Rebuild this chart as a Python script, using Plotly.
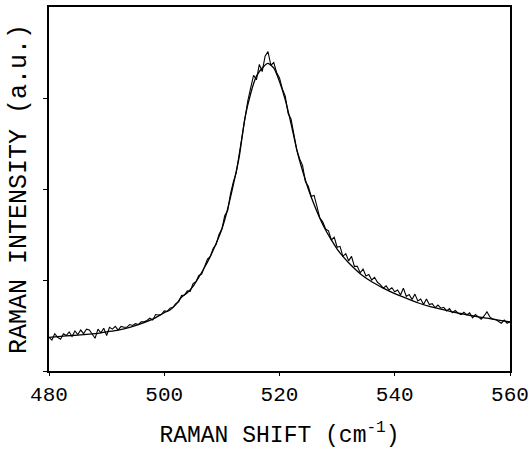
import plotly.graph_objects as go

# Smooth fit curve
fit_x = [480, 482, 484, 486, 488, 490, 492, 494, 496, 498, 500, 501, 502, 503, 504, 505,
         506, 507, 508, 509, 510, 511, 512, 513, 514, 515, 516, 517, 518, 519, 520, 521,
         522, 523, 524, 525, 526, 527, 528, 529, 530, 531, 532, 534, 536, 538, 540, 542,
         544, 546, 548, 550, 552, 554, 556, 558, 560]
fit_y = [0.37, 0.38, 0.39, 0.40, 0.41, 0.43, 0.45, 0.48, 0.52, 0.57, 0.64, 0.67, 0.73, 0.81,
         0.86, 0.93, 1.03, 1.14, 1.26, 1.40, 1.56, 1.78, 2.05, 2.35, 2.78, 3.05, 3.24, 3.33,
         3.38, 3.33, 3.18, 2.98, 2.72, 2.43, 2.20, 2.00, 1.83, 1.68, 1.55, 1.44, 1.34, 1.26,
         1.19, 1.07, 0.98, 0.91, 0.85, 0.80, 0.75, 0.71, 0.68, 0.65, 0.625, 0.60, 0.58, 0.56,
         0.54]

# Measured (noisy) spectrum, 0.5 cm-1 steps from 480 to 560
data_x = [480 + 0.5 * i for i in range(161)]
data_y = [0.37, 0.34, 0.41, 0.37, 0.35, 0.41, 0.39, 0.43, 0.38, 0.44,
          0.40, 0.45, 0.41, 0.46, 0.45, 0.40, 0.36, 0.46, 0.42, 0.47,
          0.39, 0.48, 0.46, 0.49, 0.45, 0.49, 0.48, 0.48, 0.51, 0.50,
          0.52, 0.51, 0.54, 0.54, 0.555, 0.58, 0.56, 0.62, 0.615, 0.62,
          0.66, 0.655, 0.69, 0.70, 0.74, 0.76, 0.83, 0.835, 0.88, 0.875,
          0.96, 0.98, 1.05, 1.065, 1.15, 1.23, 1.26, 1.35, 1.39, 1.50,
          1.56, 1.71, 1.76, 1.95, 2.08, 2.18, 2.38, 2.58, 2.78, 2.97,
          3.11, 3.25, 3.20, 3.37, 3.29, 3.46, 3.51, 3.36, 3.39, 3.28,
          3.22, 3.10, 3.02, 2.83, 2.77, 2.59, 2.43, 2.33, 2.26, 2.08,
          2.03, 1.92, 1.93, 1.81, 1.68, 1.64, 1.56, 1.54, 1.44, 1.47,
          1.36, 1.37, 1.26, 1.29, 1.21, 1.26, 1.15, 1.15, 1.08, 1.12,
          1.045, 1.06, 1.00, 1.03, 0.975, 0.95, 0.91, 0.935, 0.89, 0.915,
          0.87, 0.89, 0.835, 0.91, 0.82, 0.84, 0.785, 0.845, 0.77, 0.79,
          0.73, 0.79, 0.73, 0.74, 0.695, 0.725, 0.69, 0.70, 0.66, 0.685,
          0.64, 0.665, 0.635, 0.62, 0.645, 0.617, 0.64, 0.585, 0.62, 0.595,
          0.57, 0.605, 0.65, 0.595, 0.57, 0.565, 0.54, 0.525, 0.56, 0.525,
          0.54]

x_ticks = [480, 500, 520, 540, 560]
y_ticks = [0, 1, 2, 3]

font_family = "Liberation Mono, Courier New, monospace"

fig = go.Figure()
fig.add_trace(go.Scatter(x=fit_x, y=fit_y, mode="lines", line=dict(color="black", width=1.3, shape="spline", smoothing=0.6), hoverinfo="skip"))
fig.add_trace(go.Scatter(x=data_x, y=data_y, mode="lines", line=dict(color="black", width=1.1), hoverinfo="skip"))

fig.update_layout(
    width=529, height=451,
    margin=dict(l=49, r=19, t=7, b=80, autoexpand=False),
    paper_bgcolor="white", plot_bgcolor="white",
    showlegend=False,
    font=dict(family=font_family, color="black"),
    xaxis=dict(range=[480, 560], tickvals=x_ticks, ticktext=[str(v) for v in x_ticks],
               ticks="outside", ticklen=3, tickwidth=1.2, tickcolor="black",
               showline=True, linecolor="black", linewidth=1.5, mirror=True,
               showgrid=False, zeroline=False, tickfont=dict(size=21, family=font_family),
               ticklabeloverflow="allow", automargin=False,
               title=dict(text="RAMAN SHIFT (cm<sup>-1</sup>)", font=dict(size=23, family=font_family), standoff=20)),
    yaxis=dict(range=[0, 4], tickvals=y_ticks, showticklabels=False,
               ticks="outside", ticklen=4, tickwidth=1.2, tickcolor="black",
               showline=True, linecolor="black", linewidth=1.5, mirror=True,
               showgrid=False, zeroline=False, automargin=False,
               title=dict(text="RAMAN INTENSITY (a.u.)", font=dict(size=25, family=font_family), standoff=10)),
)

fig.write_html("out.html")
